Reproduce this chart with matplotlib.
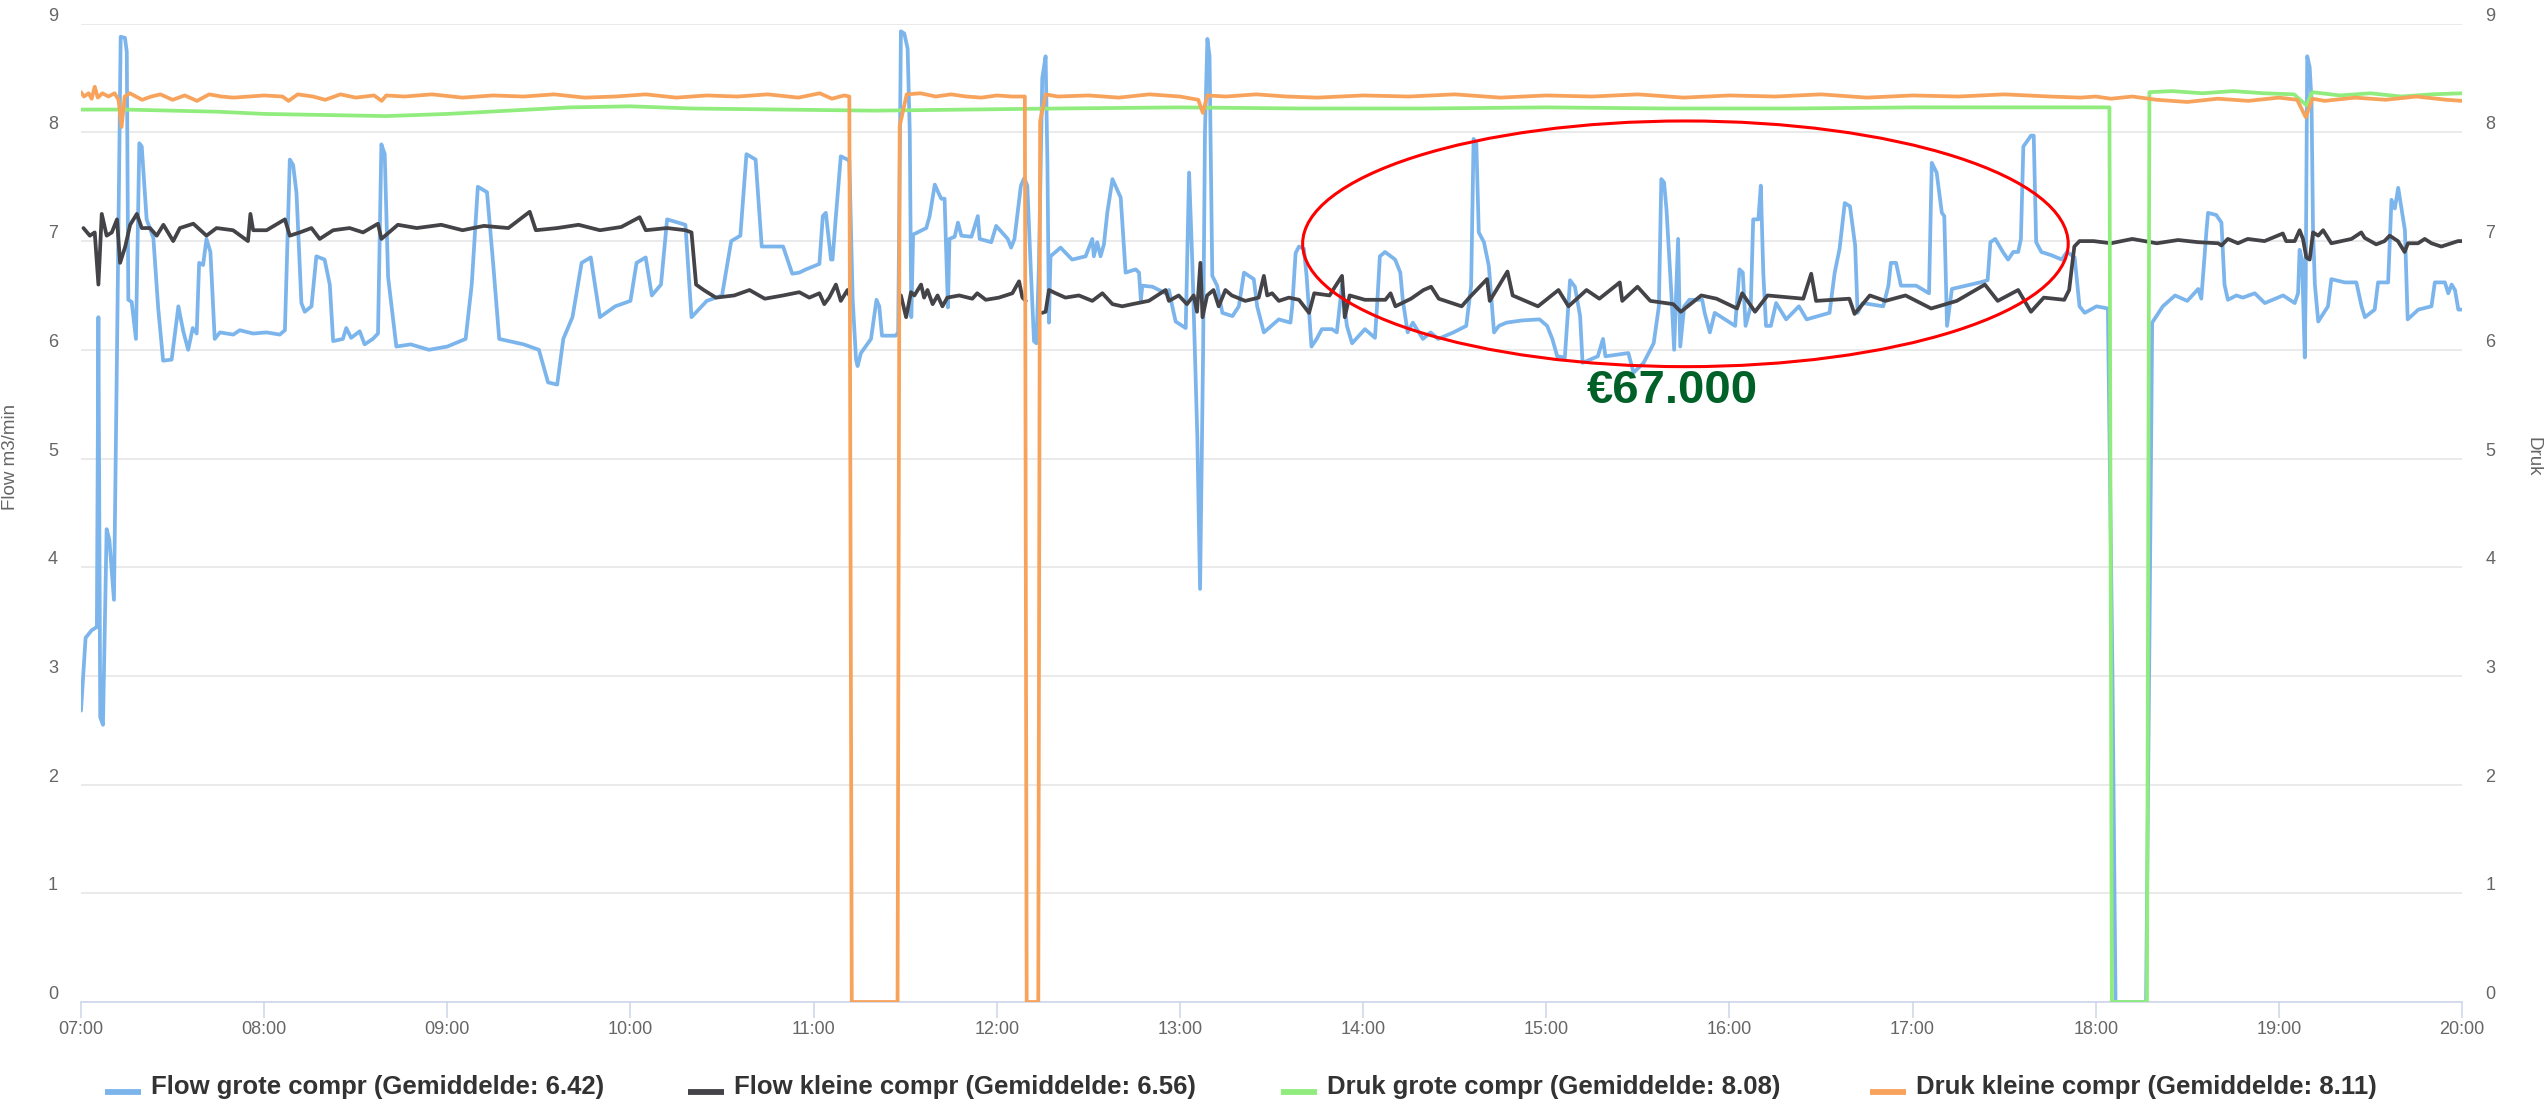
import matplotlib
matplotlib.use('Agg')
import matplotlib.pyplot as plt
import matplotlib.transforms as mtransforms
from matplotlib.patches import Ellipse
from matplotlib.lines import Line2D
import numpy as np

plt.rcParams['font.family'] = ['Liberation Sans', 'DejaVu Sans']

# ---------------- data (time = minutes after 07:00, value) ----------------
flow_grote = [
    (0, 2.68), (1.5, 3.35), (3.5, 3.42), (5.2, 3.45), (5.7, 6.3), (6.3, 2.62), (7.2, 2.55),
    (8.4, 4.35), (9.3, 4.25), (10.8, 3.7), (11.8, 6.0), (13.0, 8.88), (14.4, 8.87), (15.0, 8.74),
    (15.5, 6.46), (16.6, 6.44), (18.0, 6.1), (19.1, 7.9), (19.9, 7.87), (21.5, 7.2), (23.7, 7.03),
    (25.3, 6.38), (26.9, 5.9), (29.7, 5.91), (31.9, 6.4), (33.5, 6.17), (35.1, 6.0), (36.6, 6.2),
    (37.9, 6.15), (38.7, 6.8), (40.0, 6.78), (41.1, 7.02), (42.4, 6.9), (43.8, 6.1), (45.5, 6.16),
    (49.9, 6.14), (52.0, 6.18), (56.4, 6.15), (60.8, 6.16), (65.1, 6.14), (66.8, 6.18), (68.4, 7.75),
    (69.5, 7.7), (70.6, 7.44), (72.2, 6.43), (73.3, 6.35), (75.5, 6.4), (77.1, 6.86), (79.8, 6.83),
    (81.5, 6.6), (82.6, 6.08), (85.8, 6.1), (86.9, 6.2), (88.5, 6.11), (91.3, 6.17), (92.9, 6.05),
    (95.6, 6.1), (97.3, 6.15), (98.4, 7.89), (99.5, 7.8), (100.6, 6.67), (103.3, 6.03),
    (108, 6.05), (114, 6.0), (120, 6.03), (126, 6.1), (128, 6.6), (130, 7.5), (133, 7.45),
    (135, 6.8), (137, 6.1), (145, 6.05), (150, 6.0), (153, 5.7), (156, 5.68), (158, 6.1),
    (161, 6.3), (164, 6.8), (167, 6.85), (170, 6.3), (175, 6.4), (180, 6.45), (182, 6.8),
    (185, 6.85), (187, 6.5), (190, 6.6), (192, 7.2), (198, 7.15), (200, 6.3), (205, 6.45),
    (210, 6.5), (213, 7.0), (216, 7.05), (218, 7.8), (221, 7.75), (223, 6.95), (230, 6.95),
    (233, 6.7), (235.3, 6.71), (237.5, 6.74), (241.9, 6.79), (243.0, 7.23), (244.0, 7.26),
    (245.7, 6.83), (246.2, 6.83), (247.3, 7.23), (248.9, 7.78), (251.1, 7.75), (251.7, 7.74),
    (252.8, 6.46), (253.9, 5.91), (254.4, 5.85), (255.5, 5.97), (258.8, 6.1), (260.6, 6.46),
    (261.5, 6.4), (262.4, 6.13), (266.9, 6.13), (267.7, 6.16), (268.6, 8.93), (269.7, 8.91),
    (270.8, 8.77), (271.5, 8.0), (272.0, 6.3), (272.6, 7.06), (276.9, 7.12), (278.0, 7.23),
    (279.7, 7.52), (280.8, 7.45), (281.8, 7.39), (282.9, 7.39), (284.0, 6.39), (284.5, 7.02),
    (286.2, 7.04), (287.3, 7.17), (288.4, 7.05), (291.7, 7.04), (293.8, 7.23), (294.4, 7.02),
    (298.2, 6.99), (299.8, 7.14), (303.6, 7.02), (304.7, 6.94), (305.8, 7.02), (307.9, 7.51),
    (309.0, 7.58), (310.0, 7.51), (311.1, 6.77), (312.2, 6.08), (313.0, 6.06), (313.8, 6.77),
    (314.9, 8.5), (316.0, 8.7), (316.6, 7.7), (317.1, 6.25), (317.6, 6.86), (320.9, 6.94),
    (324.7, 6.83), (329.1, 6.86), (331.3, 7.02), (331.8, 6.86), (332.9, 6.99), (334.0, 6.86),
    (335.1, 6.97), (336.2, 7.26), (337.9, 7.57), (339.5, 7.47), (340.6, 7.4), (342.2, 6.71),
    (345.5, 6.74), (346.6, 6.71), (347.2, 6.46), (347.7, 6.59), (351.0, 6.58), (355.3, 6.52),
    (356.4, 6.55), (357.5, 6.4), (358.6, 6.26), (361.9, 6.2), (363.0, 7.63), (364.1, 6.77),
    (365.7, 5.2), (366.6, 3.8), (367.6, 6.0), (368.2, 8.0), (369.0, 8.86), (369.7, 8.7),
    (370.6, 6.68), (372.2, 6.59), (373.9, 6.34), (377.2, 6.31), (379.3, 6.4), (381.0, 6.71),
    (384.2, 6.65), (385.3, 6.4), (387.5, 6.16), (392.4, 6.28), (396.2, 6.25), (396.8, 6.4),
    (397.9, 6.89), (399.0, 6.95), (400.6, 6.93), (401.5, 6.68), (403.1, 6.03), (404.8, 6.1),
    (406.5, 6.19), (409.8, 6.19), (411.4, 6.16), (413.1, 6.6), (414.7, 6.22), (416.4, 6.06),
    (420.6, 6.19), (423.9, 6.11), (424.7, 6.46), (425.5, 6.86), (427.2, 6.9), (430.5, 6.83),
    (432.2, 6.71), (433.0, 6.46), (434.6, 6.16), (436.3, 6.25), (439.6, 6.1), (442.1, 6.16),
    (444.6, 6.1), (449.6, 6.16), (453.8, 6.22), (455.4, 6.59), (456.2, 7.94), (457.1, 7.9),
    (457.9, 7.08), (459.6, 6.99), (461.2, 6.77), (462.9, 6.16), (464.5, 6.22), (467.0, 6.25),
    (472.0, 6.27), (477.8, 6.28), (480.3, 6.22), (482.0, 6.1), (483.6, 5.94), (486.1, 5.93),
    (487.8, 6.64), (489.4, 6.58), (491.1, 6.31), (491.9, 5.88), (496.9, 5.94), (498.6, 6.1),
    (499.4, 5.94), (506.9, 5.97), (508.6, 5.79), (511.9, 5.88), (515.2, 6.06), (516.9, 6.4),
    (517.7, 7.57), (518.6, 7.54), (519.4, 7.29), (521.1, 6.46), (521.9, 6.0), (523.2, 7.02),
    (523.9, 6.03), (525.2, 6.4), (526.9, 6.46), (531.1, 6.46), (531.9, 6.34), (533.6, 6.16),
    (535.2, 6.34), (541.9, 6.22), (543.3, 6.74), (544.4, 6.71), (545.3, 6.22), (547.0, 6.4),
    (547.8, 7.2), (549.5, 7.2), (550.3, 7.51), (551.1, 6.71), (552.0, 6.22), (553.6, 6.22),
    (555.3, 6.43), (558.6, 6.28), (562.8, 6.4), (565.3, 6.28), (572.8, 6.34), (574.5, 6.71),
    (576.1, 6.93), (577.8, 7.35), (579.5, 7.32), (581.2, 6.96), (582.0, 6.34), (583.7, 6.43),
    (590.4, 6.4), (592.1, 6.59), (592.9, 6.8), (594.6, 6.8), (596.2, 6.59), (601.2, 6.59),
    (605.4, 6.52), (606.3, 7.72), (607.9, 7.63), (609.6, 7.26), (610.4, 7.23), (611.3, 6.22),
    (612.9, 6.56), (622.1, 6.62), (624.6, 6.64), (625.5, 6.99), (627.1, 7.02), (629.6, 6.9),
    (631.3, 6.83), (633.0, 6.9), (634.6, 6.9), (635.5, 7.02), (636.3, 7.87), (638.8, 7.97),
    (639.7, 7.97), (640.5, 6.99), (642.2, 6.9), (645.5, 6.87), (648.9, 6.83), (650.6, 6.9),
    (653.1, 6.85), (654.7, 6.4), (656.4, 6.34), (660.3, 6.4), (664.0, 6.38), (665.5, 3.0),
    (666.5, 0.0), (676.5, 0.0), (677.5, 3.0), (678.5, 6.25), (682, 6.4), (686, 6.5), (690, 6.45),
    (693.6, 6.56), (694.6, 6.47), (696.3, 7.1), (696.8, 7.26), (699.5, 7.24), (701.2, 7.17),
    (702.2, 6.6), (703.3, 6.46), (706.1, 6.5), (708.2, 6.48), (712.1, 6.52), (715.4, 6.43),
    (721.4, 6.5), (725.2, 6.43), (726.3, 6.52), (726.8, 6.92), (727.6, 6.83), (728.5, 5.93),
    (728.8, 6.6), (729.3, 8.7), (730.1, 8.6), (730.7, 8.3), (731.2, 7.1), (731.8, 6.6),
    (732.9, 6.26), (736.1, 6.4), (737.2, 6.65), (741.6, 6.62), (745.4, 6.62), (747.1, 6.4),
    (748.2, 6.3), (751.4, 6.37), (752.5, 6.62), (755.8, 6.62), (756.9, 7.38), (758.0, 7.3),
    (759.1, 7.49), (761.3, 7.1), (762.2, 6.28), (765.7, 6.37), (770.0, 6.4), (771.1, 6.62),
    (774.4, 6.62), (775.5, 6.52), (776.6, 6.6), (777.7, 6.55), (778.8, 6.37), (780, 6.37),
]

flow_kleine = [
    (0.8, 7.12), (2.9, 7.05), (4.5, 7.08), (5.7, 6.6), (6.8, 7.25), (8.4, 7.05), (10.1, 7.08),
    (11.8, 7.2), (12.8, 6.8), (14.5, 6.95), (16.1, 7.15), (18.3, 7.25), (19.9, 7.12), (22.6, 7.12),
    (24.8, 7.05), (27, 7.15), (30.2, 7.0), (32.4, 7.12), (36.8, 7.16), (41.1, 7.05), (44.4, 7.12),
    (49.8, 7.1), (54.7, 7.0), (55.5, 7.25), (56.4, 7.1), (60.8, 7.1), (66.8, 7.2), (68.4, 7.05),
    (71.7, 7.08), (75.5, 7.12), (78.2, 7.02), (82.6, 7.1), (88, 7.12), (92.4, 7.08), (97.3, 7.16),
    (98.4, 7.02), (103.8, 7.15), (110, 7.12), (118, 7.15), (125, 7.1), (132, 7.14), (140, 7.12),
    (147, 7.27), (149, 7.1), (156, 7.12), (163, 7.15), (170, 7.1), (177, 7.13), (183, 7.22),
    (185, 7.1), (192, 7.12), (198, 7.1), (200, 7.08), (201.5, 6.6), (204, 6.55), (208, 6.48),
    (214, 6.5), (219, 6.55), (224, 6.47), (230, 6.5), (235.3, 6.53), (238.6, 6.48), (241.9, 6.52),
    (243.5, 6.42), (245.1, 6.48), (247.3, 6.6), (248.9, 6.45), (251.1, 6.55), (251.7, 6.5),
    (252.0, None),
    (268.6, 6.5), (270.3, 6.3), (271.9, 6.53), (273.0, 6.5), (275.2, 6.6), (276.2, 6.48),
    (277.3, 6.55), (279.0, 6.42), (280.6, 6.5), (282.2, 6.4), (283.8, 6.48), (287.7, 6.5),
    (292.0, 6.47), (293.6, 6.52), (296.4, 6.46), (300.7, 6.48), (305.1, 6.52), (307.3, 6.63),
    (308.4, 6.48), (309.5, 6.45),
    (310.0, None),
    (314.9, 6.34), (316.0, 6.35), (317.1, 6.55), (319.3, 6.52), (322.5, 6.48), (326.9, 6.5),
    (331.3, 6.45), (334.6, 6.52), (337.9, 6.42), (341.1, 6.4), (344.4, 6.42), (349.8, 6.45),
    (355.3, 6.55), (356.4, 6.45), (359.6, 6.5), (362.3, 6.42), (364.5, 6.5), (365.6, 6.35),
    (366.7, 6.8), (367.4, 6.3), (368.9, 6.5), (371.0, 6.55), (372.7, 6.4), (374.9, 6.55),
    (377.0, 6.5), (381.4, 6.45), (385.8, 6.48), (387.5, 6.68), (388.6, 6.5), (390.2, 6.52),
    (392.4, 6.45), (395.7, 6.48), (399.0, 6.46), (402.3, 6.34), (404.0, 6.52), (409.0, 6.5),
    (413.1, 6.68), (414.0, 6.3), (415.6, 6.5), (420.6, 6.46), (427.3, 6.46), (429.0, 6.52),
    (430.6, 6.4), (435.7, 6.47), (439.8, 6.55), (442.3, 6.58), (444.8, 6.47), (452.3, 6.4),
    (454.8, 6.48), (460.6, 6.65), (461.5, 6.45), (467.3, 6.72), (469.0, 6.5), (477.3, 6.4),
    (484.0, 6.55), (487.3, 6.4), (493.2, 6.55), (497.4, 6.47), (504.1, 6.62), (504.9, 6.45),
    (509.9, 6.58), (514.1, 6.45), (521.6, 6.42), (524.1, 6.35), (530.8, 6.5), (535.8, 6.47),
    (542.5, 6.38), (544.2, 6.52), (548.4, 6.35), (552.5, 6.5), (564.2, 6.47), (566.8, 6.7),
    (568.4, 6.45), (579.3, 6.47), (581.0, 6.33), (586.0, 6.5), (591.1, 6.45), (597.7, 6.5),
    (606.1, 6.38), (614.5, 6.45), (623.7, 6.6), (627.9, 6.45), (634.6, 6.55), (638.8, 6.35),
    (643.0, 6.48), (649.7, 6.46), (651.3, 6.55), (653.0, 6.95), (654.7, 7.0), (659.3, 7.0),
    (665, 6.98), (672, 7.02), (680, 6.98), (687, 7.01), (693.6, 6.99), (700.1, 6.98),
    (701.2, 6.96), (703.3, 7.02), (706.6, 6.98), (709.8, 7.02), (715.3, 7.0), (721.3, 7.07),
    (722.4, 7.0), (725.2, 7.0), (726.8, 7.1), (727.9, 7.02), (729.0, 6.85), (730.1, 6.83),
    (731.2, 7.08), (732.9, 7.05), (734.5, 7.1), (737.2, 6.98), (740.5, 7.0), (743.8, 7.02),
    (747.0, 7.08), (748.1, 7.03), (751.9, 6.97), (754.6, 7.0), (756.3, 7.05), (759.0, 7.0),
    (761.2, 6.9), (762.3, 6.98), (765.6, 6.98), (767.8, 7.02), (770.0, 6.98), (773.2, 6.95),
    (776.5, 6.98), (778.7, 7.0), (780, 7.0),
]

druk_grote = [
    (0, 8.21), (15, 8.21), (30, 8.2), (45, 8.19), (60, 8.17), (80, 8.16), (100, 8.15), (120, 8.17),
    (140, 8.2), (160, 8.23), (180, 8.24), (200, 8.22), (230, 8.21), (260, 8.2), (290, 8.21),
    (320, 8.22), (360, 8.23), (400, 8.22), (440, 8.22), (480, 8.23), (520, 8.22), (560, 8.22),
    (600, 8.23), (640, 8.23), (664.5, 8.23), (665.3, 0.0), (676.8, 0.0), (677.6, 8.37),
    (685, 8.38), (695, 8.36), (705, 8.38), (715, 8.36), (725, 8.35), (729, 8.25), (731, 8.37),
    (740, 8.34), (750, 8.36), (760, 8.33), (770, 8.35), (780, 8.36),
]

druk_kleine = [
    (0, 8.37), (1, 8.33), (2.5, 8.36), (3.5, 8.31), (4.5, 8.42), (5.5, 8.32), (7, 8.36), (9, 8.33),
    (11, 8.36), (12.3, 8.3), (13.3, 8.05), (14.3, 8.33), (16, 8.36), (18, 8.33), (20, 8.3),
    (23, 8.33), (26, 8.35), (30, 8.3), (34, 8.34), (38, 8.29), (42, 8.35), (46, 8.33), (50, 8.32),
    (55, 8.33), (60, 8.34), (66, 8.33), (68, 8.29), (71, 8.35), (76, 8.33), (80, 8.3), (85, 8.35),
    (90, 8.32), (96, 8.34), (98.5, 8.29), (100, 8.34), (106, 8.33), (115, 8.35), (125, 8.32),
    (135, 8.34), (145, 8.33), (155, 8.35), (165, 8.32), (175, 8.33), (185, 8.35), (195, 8.32),
    (205, 8.34), (215, 8.33), (225, 8.35), (235, 8.32), (242, 8.36), (246, 8.31), (250, 8.34),
    (251.7, 8.33), (252.5, 0.0), (267.5, 0.0), (268.2, 8.06), (270.5, 8.35), (275, 8.36),
    (280, 8.33), (285, 8.35), (290, 8.33), (295, 8.32), (300, 8.34), (305, 8.33), (309.2, 8.33),
    (309.8, 0.0), (313.6, 0.0), (314.2, 8.1), (316, 8.35), (320, 8.33), (330, 8.34), (340, 8.32),
    (350, 8.35), (360, 8.33), (366, 8.3), (367.5, 8.18), (369, 8.34), (375, 8.33), (385, 8.35),
    (395, 8.33), (405, 8.32), (420, 8.34), (435, 8.33), (450, 8.35), (465, 8.32), (480, 8.34),
    (495, 8.33), (510, 8.35), (525, 8.32), (540, 8.34), (555, 8.33), (570, 8.35), (585, 8.32),
    (600, 8.34), (615, 8.33), (630, 8.35), (645, 8.33), (655, 8.32), (660, 8.33), (665, 8.31),
    (672, 8.33), (680, 8.3), (690, 8.28), (700, 8.31), (710, 8.29), (720, 8.32), (726, 8.3),
    (728.8, 8.14), (731, 8.31), (735, 8.29), (745, 8.32), (755, 8.3), (765, 8.33), (775, 8.3),
    (780, 8.29),
]

series_names = ["Flow grote compr", "Flow kleine compr", "Druk grote compr", "Druk kleine compr"]
series_means = ["6.42", "6.56", "8.08", "8.11"]
series_colors = ["#7cb5ec", "#434348", "#90ed7d", "#f7a35c"]
hour_ticks = list(range(7, 21))
y_ticks = list(range(0, 10))
annotation_text = "€67.000"

# ---------------- figure ----------------
W, H = 2547, 1109
fig = plt.figure(figsize=(W / 100, H / 100), dpi=100)
x0, x1, y0, y1 = 81, 2462, 1002, 23.7
ax = fig.add_axes([x0 / W, 1 - y0 / H, (x1 - x0) / W, (y0 - y1) / H])


def split(data):
    t = np.array([7 + d[0] / 60.0 for d in data])
    v = np.array([np.nan if d[1] is None else d[1] for d in data], dtype=float)
    return t, v


for data, col in zip([flow_grote, flow_kleine, druk_grote, druk_kleine], series_colors):
    t, v = split(data)
    ax.plot(t, v, color=col, lw=2.7, solid_joinstyle='round', solid_capstyle='round', zorder=3)

ax.set_xlim(7, 20)
ax.set_ylim(0, 9)
ax.set_yticks(y_ticks)
ax.set_yticklabels([str(v) for v in y_ticks])
ax.set_xticks(hour_ticks)
ax.set_xticklabels([f"{h:02d}:00" for h in hour_ticks])
ax.grid(axis='y', color='#e6e6e6', lw=1.2, zorder=0)
ax.set_axisbelow(True)
for s in ['top', 'left', 'right']:
    ax.spines[s].set_visible(False)
ax.spines['bottom'].set_color('#ccd6eb')
ax.spines['bottom'].set_linewidth(1.2)
ax.tick_params(axis='x', direction='out', length=11.5, width=1.1, color='#ccd6eb',
               labelsize=13, labelcolor='#666666', pad=2)
ax.tick_params(axis='y', length=0, labelsize=13, labelcolor='#666666', pad=16.5)

ax2 = ax.twinx()
ax2.set_ylim(0, 9)
ax2.set_yticks(y_ticks)
ax2.set_yticklabels([str(v) for v in y_ticks])
for s in ['top', 'left', 'right', 'bottom']:
    ax2.spines[s].set_visible(False)
ax2.tick_params(axis='y', length=0, labelsize=13, labelcolor='#666666', pad=17)

shift = mtransforms.ScaledTranslation(0, 9.5 / 100, fig.dpi_scale_trans)
for lab in ax.get_yticklabels() + ax2.get_yticklabels():
    lab.set_transform(lab.get_transform() + shift)

fig.text(11 / W, 1 - 457 / H, "Flow m3/min", rotation=90, ha='center', va='center',
         fontsize=13.5, color='#666666')
fig.text(2533 / W, 1 - 457 / H, "Druk", rotation=270, ha='center', va='center',
         fontsize=13.5, color='#666666')

# annotation
ell = Ellipse((15.76, 6.975), 4.18, 2.26, fill=False, edgecolor='#ff0000', lw=2.2, zorder=5)
ax.add_patch(ell)
ax.text(15.69, 5.62, annotation_text, ha='center', va='center', fontsize=34,
        fontweight='bold', color='#006128', zorder=6)

# legend (manual, Highcharts-style)
handle_x = [105, 688, 1281, 1870]
leg_base = 1094
for hx, name, mean, col in zip(handle_x, series_names, series_means, series_colors):
    fig.add_artist(Line2D([hx / W, (hx + 36) / W], [1 - (leg_base - 2) / H, 1 - (leg_base - 2) / H],
                          color=col, lw=4.2, solid_capstyle='butt'))
    fig.text((hx + 46) / W, 1 - leg_base / H, f"{name} (Gemiddelde: {mean})", ha='left',
             va='baseline', fontsize=18.5, fontweight='bold', color='#333333')

fig.savefig("out.png", dpi=100, facecolor='white')
